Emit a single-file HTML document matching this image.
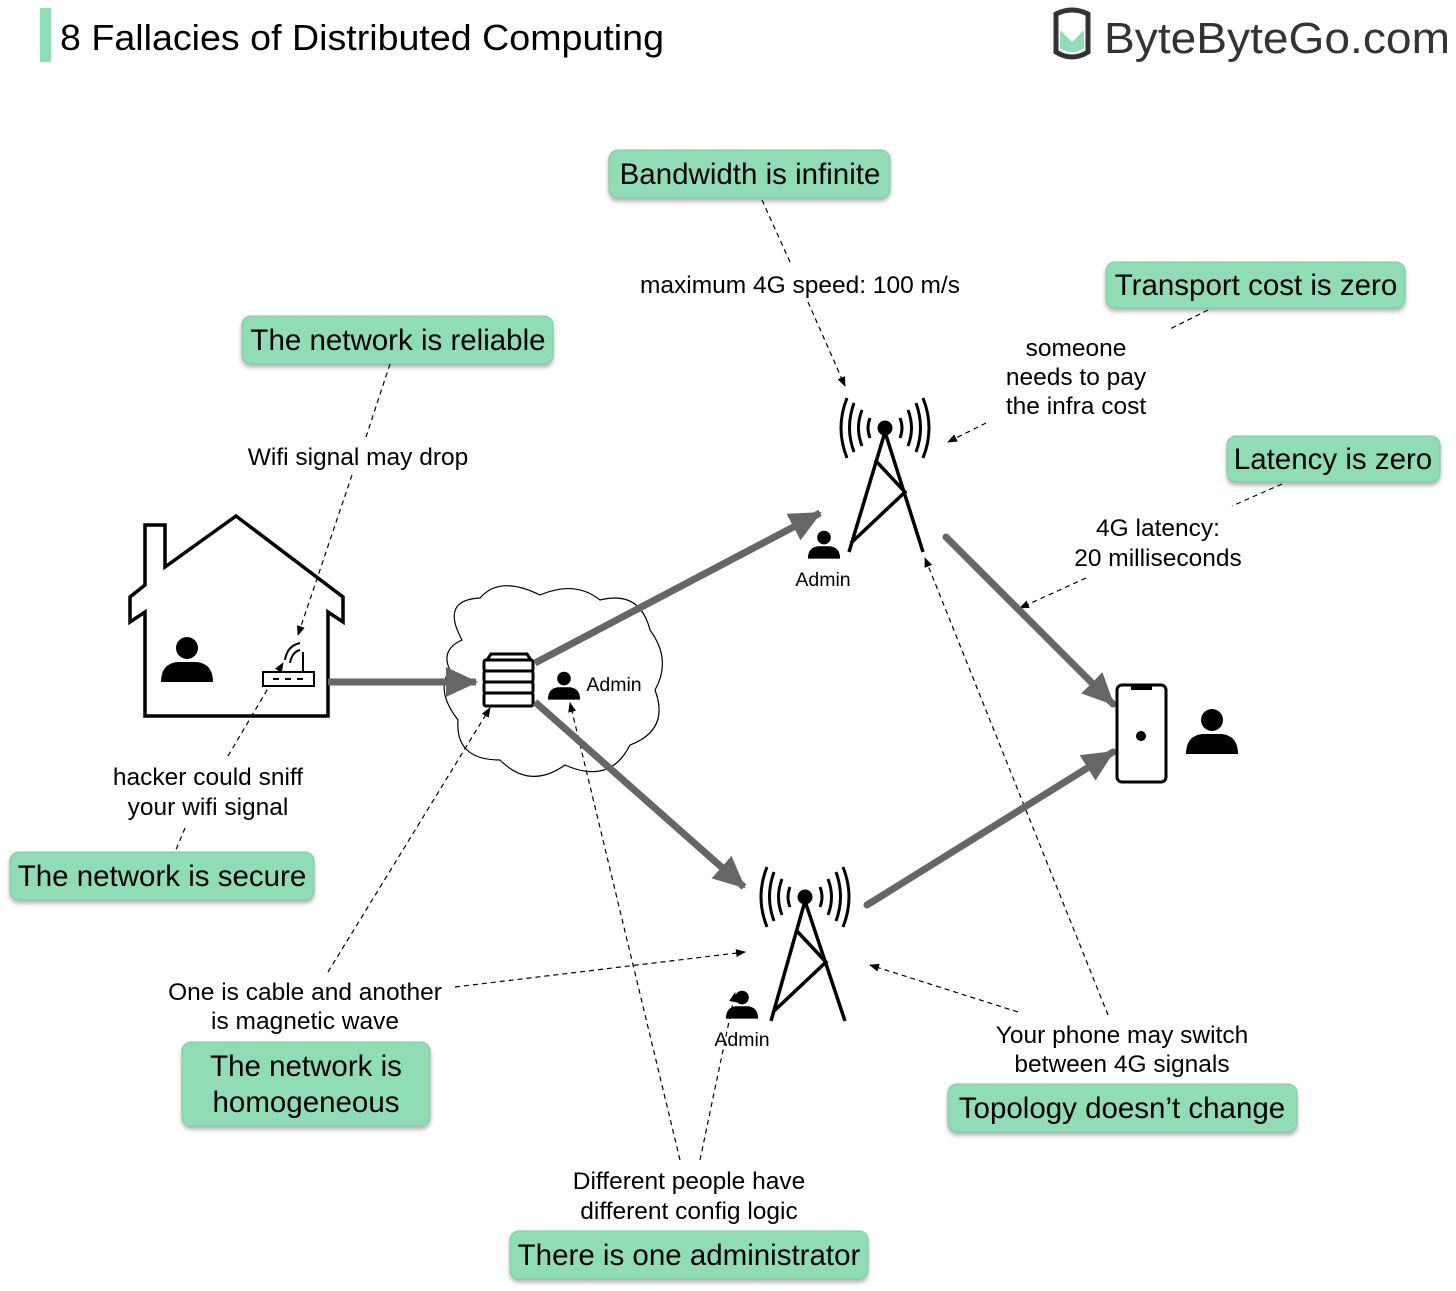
<!DOCTYPE html>
<html><head><meta charset="utf-8"><style>
body{margin:0;background:#fff}
svg{display:block}
text{font-family:"Liberation Sans",sans-serif;fill:#000}
.b{fill:#8fdcb5;stroke:#7cc9a2;stroke-width:1}
.bt{font-size:29.5px;text-anchor:middle}
.l{font-size:24.5px;text-anchor:middle}
.a{font-size:19.5px;text-anchor:middle}
.d{stroke:#000;stroke-width:1.2;stroke-dasharray:5,4;fill:none}
.g{stroke:#666;stroke-width:7;fill:none}
.k{stroke:#000;stroke-width:3.5;fill:none}
</style></head><body>
<svg width="1456" height="1291" viewBox="0 0 1456 1291">
<defs>
<marker id="ah" markerWidth="10" markerHeight="10" refX="9" refY="5" orient="auto" markerUnits="userSpaceOnUse"><path d="M0,1 L10,5 L0,9 Z" fill="#000"/></marker>
<marker id="gh" markerWidth="34" markerHeight="30" refX="30" refY="15" orient="auto" markerUnits="userSpaceOnUse"><path d="M0,0 L32,15 L0,30 Z" fill="#666"/></marker>
<filter id="sh" x="-10%" y="-10%" width="120%" height="140%"><feDropShadow dx="0" dy="3" stdDeviation="2" flood-color="#000" flood-opacity="0.3"/></filter>
<g id="person"><circle cx="0" cy="-12" r="11"/><path d="M-26,22 Q-26,4 -10,2 L10,2 Q26,4 26,22 Z"/></g>
</defs>

<rect x="40" y="8" width="11" height="54" fill="#8fdcb5"/>
<text x="60" y="50" font-size="36" textLength="604" lengthAdjust="spacingAndGlyphs">8 Fallacies of Distributed Computing</text>
<path d="M1056,14 Q1072,6 1088,14 L1088,52 Q1072,62 1056,52 Z" fill="none" stroke="#333" stroke-width="5"/>
<path d="M1060,30 L1072,42 L1084,30 L1084,48 Q1072,56 1060,48 Z" fill="#8fdcb5"/>
<text x="1104" y="53" font-size="44" style="fill:#333" textLength="346" lengthAdjust="spacingAndGlyphs">ByteByteGo.com</text>

<path d="M462,640 Q440,600 480,598 Q500,575 540,595 Q575,580 600,600 Q640,590 650,630 Q672,660 655,690 Q670,730 630,745 Q610,785 565,765 Q530,790 500,760 Q455,760 458,720 Q435,690 450,670 Q440,650 462,640 Z" fill="#fff" stroke="#000" stroke-width="1.2"/>

<g filter="url(#sh)">
<rect class="b" x="609" y="150" width="281" height="48" rx="9"/>
<rect class="b" x="1106" y="262" width="299" height="46" rx="9"/>
<rect class="b" x="242" y="316" width="311" height="48" rx="9"/>
<rect class="b" x="1227" y="436" width="213" height="46" rx="9"/>
<rect class="b" x="10" y="852" width="304" height="48" rx="9"/>
<rect class="b" x="182" y="1042" width="248" height="84" rx="9"/>
<rect class="b" x="948" y="1084" width="349" height="48" rx="9"/>
<rect class="b" x="510" y="1231" width="358" height="48" rx="9"/>
</g>
<text class="bt" x="750" y="184">Bandwidth is infinite</text>
<text class="bt" x="1256" y="295">Transport cost is zero</text>
<text class="bt" x="398" y="350">The network is reliable</text>
<text class="bt" x="1333" y="469">Latency is zero</text>
<text class="bt" x="162" y="886">The network is secure</text>
<text class="bt" x="306" y="1076">The network is</text>
<text class="bt" x="306" y="1112">homogeneous</text>
<text class="bt" x="1122" y="1118">Topology doesn’t change</text>
<text class="bt" x="689" y="1265">There is one administrator</text>

<text class="l" x="800" y="293">maximum 4G speed: 100 m/s</text>
<text class="l" x="1076" y="356">someone</text>
<text class="l" x="1076" y="385">needs to pay</text>
<text class="l" x="1076" y="414">the infra cost</text>
<text class="l" x="358" y="465">Wifi signal may drop</text>
<text class="l" x="1158" y="536">4G latency:</text>
<text class="l" x="1158" y="566">20 milliseconds</text>
<text class="l" x="208" y="785">hacker could sniff</text>
<text class="l" x="208" y="815">your wifi signal</text>
<text class="l" x="305" y="1000">One is cable and another</text>
<text class="l" x="305" y="1029">is magnetic wave</text>
<text class="l" x="1122" y="1043">Your phone may switch</text>
<text class="l" x="1122" y="1072">between 4G signals</text>
<text class="l" x="689" y="1189">Different people have</text>
<text class="l" x="689" y="1219">different config logic</text>
<text class="a" x="823" y="586">Admin</text>
<text class="a" x="614" y="691">Admin</text>
<text class="a" x="742" y="1046">Admin</text>

<path class="d" d="M762,200 L790,262"/>
<path class="d" d="M808,302 L845,386" marker-end="url(#ah)"/>
<path class="d" d="M1208,310 L1168,330"/>
<path class="d" d="M986,423 L948,442" marker-end="url(#ah)"/>
<path class="d" d="M390,364 L366,437"/>
<path class="d" d="M352,475 L298,635" marker-end="url(#ah)"/>
<path class="d" d="M1282,484 L1232,506"/>
<path class="d" d="M1086,578 L1020,608" marker-end="url(#ah)"/>
<path class="d" d="M185,828 L175,852"/>
<path class="d" d="M228,756 L283,663" marker-end="url(#ah)"/>
<path class="d" d="M328,972 L490,708" marker-end="url(#ah)"/>
<path class="d" d="M455,987 L745,952" marker-end="url(#ah)"/>
<path class="d" d="M680,1160 L570,703" marker-end="url(#ah)"/>
<path class="d" d="M700,1160 L735,993" marker-end="url(#ah)"/>
<path class="d" d="M1018,1012 L870,965" marker-end="url(#ah)"/>
<path class="d" d="M1108,1015 L925,558" marker-end="url(#ah)"/>

<path class="k" d="M145,525 L165,525 L165,567 L236,516 L343,597 L343,622 L328,612 L328,716 L145,716 L145,612 L130,622 L130,597 L145,585 Z" stroke-linejoin="miter"/>
<use href="#person" x="187" y="660"/>
<rect x="263" y="672" width="51" height="14" fill="#fff" stroke="#000" stroke-width="2"/>
<path d="M273,679 h6 M285,679 h6 M297,679 h6" stroke="#000" stroke-width="2"/>
<path d="M303,672 V652 M285,660 Q287,646 300,643 M290,663 Q292,652 300,650" stroke="#000" stroke-width="2" fill="none"/>

<g stroke="#000" stroke-width="3" fill="#fff">
<path d="M487,660 L491,654 L527,654 L531,660"/>
<rect x="484" y="660" width="49" height="11" rx="2"/>
<rect x="484" y="671" width="49" height="11" rx="2"/>
<rect x="484" y="682" width="49" height="11" rx="2"/>
<rect x="484" y="693" width="49" height="13" rx="2"/>
</g>
<use href="#person" transform="translate(564,686) scale(0.62)"/>

<path class="g" d="M328,682 L476,682" marker-end="url(#gh)"/>
<path class="g" d="M535,663 L820,513" marker-end="url(#gh)"/>
<path class="g" d="M535,702 L744,887" marker-end="url(#gh)"/>
<path class="g" d="M946,537 L1113,704" stroke-linecap="round" marker-end="url(#gh)"/>
<path class="g" d="M867,905 L1113,752" stroke-linecap="round" marker-end="url(#gh)"/>

<g stroke="#000" stroke-width="3" fill="none">
<circle cx="885" cy="428" r="6" fill="#000"/>
<path d="M885,432 L849,552 M885,432 L923,552 M875,460 L905,492 L851,543" stroke-width="3.5"/>
<path d="M870,418 Q866,428 870,438 M862,410 Q855,428 862,446 M854,403 Q845,428 854,452 M847,398 Q835,428 847,458"/>
<path d="M900,418 Q904,428 900,438 M908,410 Q915,428 908,446 M916,403 Q925,428 916,452 M923,398 Q935,428 923,458"/>
</g>
<use href="#person" transform="translate(824,545) scale(0.62)"/>
<g stroke="#000" stroke-width="3" fill="none">
<circle cx="805" cy="897" r="6" fill="#000"/>
<path d="M805,901 L771,1021 M805,901 L845,1021 M796,930 L826,962 L773,1012" stroke-width="3.5"/>
<path d="M790,887 Q786,897 790,907 M782,879 Q775,897 782,915 M774,872 Q765,897 774,921 M767,867 Q755,897 767,927"/>
<path d="M820,887 Q824,897 820,907 M828,879 Q835,897 828,915 M836,872 Q845,897 836,921 M843,867 Q855,897 843,927"/>
</g>
<use href="#person" transform="translate(742,1005) scale(0.62)"/>

<rect x="1117" y="685" width="49" height="97" rx="5" fill="#fff" stroke="#000" stroke-width="3"/>
<rect x="1131" y="686" width="21" height="4" fill="#000"/>
<circle cx="1141" cy="736" r="5" fill="#000"/>
<use href="#person" x="1212" y="732"/>
</svg>
</body></html>
